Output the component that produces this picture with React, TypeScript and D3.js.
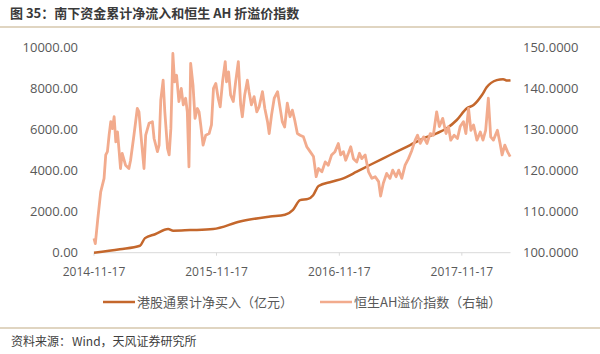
import * as d3 from 'd3';

// 港股通累计净买入（亿元）, left axis — [date, value]
const flowSeries: [string, number][] = [
  ['2014-11-17', 0], ['2015-02-02', 170], ['2015-04-03', 340], ['2015-04-18', 710],
  ['2015-05-18', 900], ['2015-06-26', 1150], ['2015-07-11', 1070], ['2015-08-30', 1100],
  ['2015-11-07', 1150], ['2016-01-26', 1520], ['2016-04-25', 1760], ['2016-06-08', 1850],
  ['2016-07-02', 2090], ['2016-07-23', 2560], ['2016-08-16', 2620], ['2016-08-31', 2800],
  ['2016-09-16', 3250], ['2016-10-25', 3457], ['2016-11-29', 3622], ['2017-01-08', 3944],
  ['2017-02-16', 4270], ['2017-03-28', 4596], ['2017-05-07', 4917], ['2017-06-16', 5243],
  ['2017-07-26', 5570], ['2017-09-03', 5813], ['2017-10-03', 6057], ['2017-11-02', 6461],
  ['2017-12-02', 7030], ['2017-12-22', 7191], ['2018-01-16', 7678], ['2018-01-30', 8050],
  ['2018-03-01', 8400], ['2018-03-20', 8450], ['2018-04-01', 8380], ['2018-04-11', 8400],
];

// 恒生AH溢价指数, right axis — [date, value]
const ahSeries: [string, number][] = [
  ['2014-11-17', 103.5], ['2014-11-21', 102.2], ['2014-11-28', 108], ['2014-12-07', 114.8],
  ['2014-12-17', 118.1], ['2014-12-22', 123.8], ['2014-12-27', 124.6], ['2015-01-01', 128.6],
  ['2015-01-06', 131.9], ['2015-01-11', 130.2], ['2015-01-16', 133.1], ['2015-01-21', 127],
  ['2015-01-26', 129.4], ['2015-01-31', 124.6], ['2015-02-04', 120.5], ['2015-02-09', 124.2],
  ['2015-02-19', 121.3], ['2015-03-01', 120.5], ['2015-03-06', 122.5], ['2015-03-16', 128.6],
  ['2015-03-26', 135.1], ['2015-03-31', 134.3], ['2015-04-05', 129.4], ['2015-04-15', 120.5],
  ['2015-04-20', 128.6], ['2015-04-30', 131.5], ['2015-05-10', 131.9], ['2015-05-15', 127.8],
  ['2015-05-25', 124.6], ['2015-05-30', 126.2], ['2015-06-04', 137.2], ['2015-06-11', 142],
  ['2015-06-16', 134.3], ['2015-06-24', 125.4], ['2015-06-29', 123.8], ['2015-07-04', 130.2],
  ['2015-07-10', 148.5], ['2015-07-15', 141.6], ['2015-07-21', 143.2], ['2015-07-28', 136.8],
  ['2015-08-04', 140], ['2015-08-10', 136], ['2015-08-17', 137.6], ['2015-08-22', 134.3],
  ['2015-08-27', 120.9], ['2015-09-01', 146.1], ['2015-09-08', 140.8], ['2015-09-14', 132.7],
  ['2015-09-21', 135.1], ['2015-09-26', 134.3], ['2015-10-01', 131.1], ['2015-10-08', 126.2],
  ['2015-10-16', 128.6], ['2015-10-26', 129], ['2015-11-02', 131.1], ['2015-11-08', 140],
  ['2015-11-15', 141.2], ['2015-11-22', 137.6], ['2015-11-28', 135.5], ['2015-12-05', 141.6],
  ['2015-12-13', 146.5], ['2015-12-17', 141.6], ['2015-12-23', 144], ['2015-12-29', 138.4],
  ['2016-01-06', 136.8], ['2016-01-13', 141.6], ['2016-01-21', 146.5], ['2016-01-28', 136],
  ['2016-02-02', 133.1], ['2016-02-09', 138.4], ['2016-02-17', 142], ['2016-02-22', 139.2],
  ['2016-02-29', 136], ['2016-03-08', 138], ['2016-03-16', 134.3], ['2016-03-23', 135.5],
  ['2016-04-02', 139.2], ['2016-04-09', 135.1], ['2016-04-17', 131.9], ['2016-04-22', 129],
  ['2016-04-29', 133.5], ['2016-05-07', 137.6], ['2016-05-17', 139.2], ['2016-05-24', 135.5],
  ['2016-05-31', 131.9], ['2016-06-07', 130.6], ['2016-06-15', 136.4], ['2016-06-23', 133.1],
  ['2016-06-30', 134.7], ['2016-07-07', 132.3], ['2016-07-15', 129], ['2016-07-23', 128.6],
  ['2016-08-02', 128.2], ['2016-08-12', 125.8], ['2016-08-22', 124.6], ['2016-09-01', 123.4],
  ['2016-09-09', 118.5], ['2016-09-16', 120.5], ['2016-09-26', 119.7], ['2016-10-06', 122.1],
  ['2016-10-15', 121.3], ['2016-10-25', 123.8], ['2016-11-04', 124.6], ['2016-11-14', 126.6],
  ['2016-11-21', 123.8], ['2016-11-29', 124.6], ['2016-12-06', 122.5], ['2016-12-14', 124.2],
  ['2016-12-21', 125.8], ['2016-12-29', 122.9], ['2017-01-08', 122.1], ['2017-01-16', 124.2],
  ['2017-01-23', 122.9], ['2017-02-02', 123.8], ['2017-02-12', 119.7], ['2017-02-22', 118.1],
  ['2017-03-04', 118.5], ['2017-03-14', 117.3], ['2017-03-20', 113.8], ['2017-03-28', 116.9],
  ['2017-04-07', 119.3], ['2017-04-17', 118.1], ['2017-04-25', 120.1], ['2017-05-05', 118.5],
  ['2017-05-13', 120.1], ['2017-05-22', 118.1], ['2017-06-01', 121.3], ['2017-06-11', 122.9],
  ['2017-06-21', 124.9], ['2017-07-01', 127.4], ['2017-07-08', 128.6], ['2017-07-16', 126.6],
  ['2017-07-26', 128.2], ['2017-08-05', 126.6], ['2017-08-15', 129], ['2017-08-24', 128.6],
  ['2017-09-03', 134.3], ['2017-09-11', 130.7], ['2017-09-21', 132.7], ['2017-10-01', 129],
  ['2017-10-08', 130.7], ['2017-10-15', 127.4], ['2017-10-25', 128.6], ['2017-11-04', 127.8],
  ['2017-11-12', 130.7], ['2017-11-22', 131.9], ['2017-11-29', 129], ['2017-12-07', 135.1],
  ['2017-12-14', 129.8], ['2017-12-22', 131.1], ['2018-01-01', 127.4], ['2018-01-11', 129.4],
  ['2018-01-19', 127.4], ['2018-01-27', 129.8], ['2018-02-04', 137.6], ['2018-02-11', 128.2],
  ['2018-02-19', 127.4], ['2018-03-03', 129.8], ['2018-03-11', 126.6], ['2018-03-17', 123.8],
  ['2018-03-25', 126.2], ['2018-04-02', 124.6], ['2018-04-10', 123.4],
];

const xTickLabels = ['2014-11-17', '2015-11-17', '2016-11-17', '2017-11-17'];
const leftTicks = [0, 2000, 4000, 6000, 8000, 10000];
const rightTicks = [100, 110, 120, 130, 140, 150];

const parse = d3.timeParse('%Y-%m-%d');

const darkColor = '#C4672C';
const lightColor = '#F2AB8D';
const textColor = '#595959';
const numFont = '"Open Sans", "Noto Sans", sans-serif';
const cjkFont = '"Noto Sans CJK SC", "Noto Sans", sans-serif';

const W = 600;
const H = 354;
const x0 = 94;
const x1 = 510.5;
const yTop = 47.3;
const yBottom = 252.7;

export default function App() {
  const xScale = d3.scaleTime()
    .domain([parse('2014-11-17')!, parse('2018-04-11')!])
    .range([x0, x1]);
  const yLeft = d3.scaleLinear().domain([0, 10000]).range([yBottom, yTop]);
  const yRight = d3.scaleLinear().domain([100, 150]).range([yBottom, yTop]);

  const flowLine = d3.line<[string, number]>()
    .x(d => xScale(parse(d[0])!))
    .y(d => yLeft(d[1]))
    .curve(d3.curveMonotoneX);
  const ahLine = d3.line<[string, number]>()
    .x(d => xScale(parse(d[0])!))
    .y(d => yRight(d[1]));

  return (
    <svg width={W} height={H} style={{ position: 'absolute', left: 0, top: 0, background: '#fff' }}>
      <text x={10} y={18} fontFamily={cjkFont} fontSize={13} fontWeight="bold" fill="#3a3a3a">
        图 35：南下资金累计净流入和恒生 AH 折溢价指数
      </text>
      <line x1={0} x2={W} y1={27} y2={27} stroke="#d6c7ad" strokeWidth={1.5} />

      {/* axes */}
      <line x1={x0} x2={x1} y1={yBottom} y2={yBottom} stroke="#d9d9d9" />
      {xTickLabels.map(t => {
        const x = xScale(parse(t)!);
        return (
          <g key={t}>
            <line x1={x} x2={x} y1={yBottom} y2={yBottom + 3} stroke="#d9d9d9" />
            <text x={x} y={276} textAnchor="middle" fontFamily={numFont} fontSize={12} fill={textColor}>{t}</text>
          </g>
        );
      })}
      {leftTicks.map(t => (
        <text key={t} x={78} y={yLeft(t) + 4.5} textAnchor="end" fontFamily={numFont} fontSize={13} fill={textColor}>
          {d3.format('.2f')(t)}
        </text>
      ))}
      {rightTicks.map(t => (
        <text key={t} x={523} y={yRight(t) + 4.5} fontFamily={numFont} fontSize={13} fill={textColor}>
          {d3.format('.4f')(t)}
        </text>
      ))}

      <path d={flowLine(flowSeries) ?? ''} fill="none" stroke={darkColor} strokeWidth={2.5} strokeLinejoin="round" />
      <path d={ahLine(ahSeries) ?? ''} fill="none" stroke={lightColor} strokeWidth={2.8} strokeLinejoin="round" />

      {/* legend */}
      <line x1={103} x2={135} y1={302} y2={302} stroke={darkColor} strokeWidth={2.5} />
      <text x={137} y={306.5} fontFamily={cjkFont} fontSize={13} fill={textColor}>港股通累计净买入（亿元）</text>
      <line x1={320} x2={352} y1={302} y2={302} stroke={lightColor} strokeWidth={2.5} />
      <text x={354} y={306.5} fontFamily={cjkFont} fontSize={13} fill={textColor}>恒生AH溢价指数（右轴）</text>

      <line x1={0} x2={W} y1={328} y2={328} stroke="#d6c7ad" strokeWidth={1.5} />
      <text x={11} y={346} fontFamily={cjkFont} fontSize={12} fill="#404040">资料来源：</text>
      <text x={72} y={346} fontFamily={cjkFont} fontSize={12} fill="#404040">Wind，天风证券研究所</text>
    </svg>
  );
}
